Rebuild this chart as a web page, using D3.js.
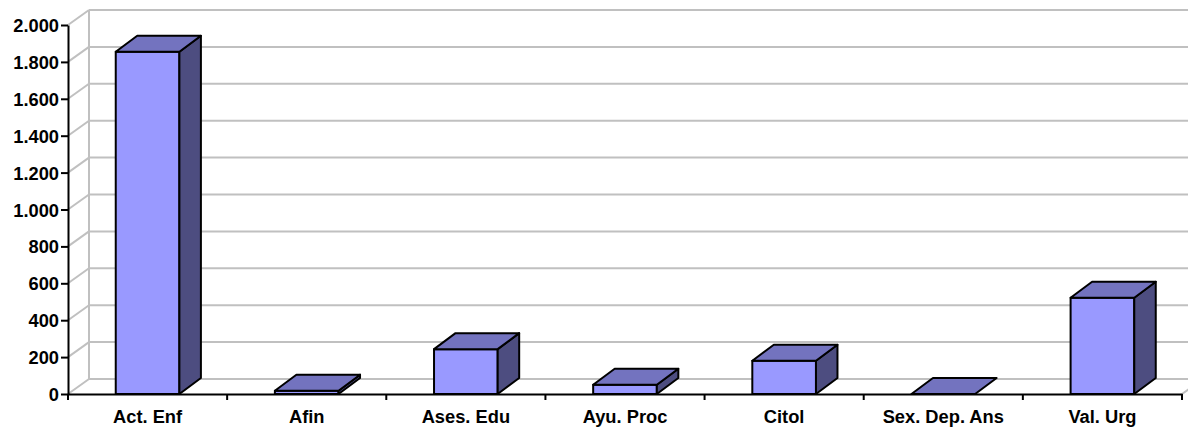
<!DOCTYPE html>
<html>
<head>
<meta charset="utf-8">
<script src="https://cdn.jsdelivr.net/npm/d3@7/dist/d3.min.js"></script>
<style>
  html, body { margin: 0; padding: 0; background: #fff; }
  svg { display: block; }
  text { font-family: "Liberation Sans", Arial, sans-serif; font-weight: bold; font-size: 18.3px; fill: #000; }
</style>
</head>
<body>
<svg id="chart" width="1188" height="428"></svg>
<script>
const categories = ["Act. Enf", "Afin", "Ases. Edu", "Ayu. Proc", "Citol", "Sex. Dep. Ans", "Val. Urg"];
const values = [1855, 18, 243, 50, 180, 0, 522];
const yTicks = [0, 200, 400, 600, 800, 1000, 1200, 1400, 1600, 1800, 2000];

const svg = d3.select("#chart");
const plotLeft = 68, plotRight = 1182, plotBase = 394, plotTop = 25;
const wallDx = 21, wallDy = -15;
const barDx = 21.5, barDy = -16;

const y = d3.scaleLinear().domain([0, 2000]).range([plotBase, plotTop]);
const slot = d3.scaleBand().domain(categories).range([plotLeft, plotRight]).padding(0);
const x = d3.scaleBand().domain(categories).range([plotLeft, plotRight]).paddingInner(0.6).paddingOuter(0.3);

const loc = d3.formatLocale({ decimal: ",", thousands: ".", grouping: [3], currency: ["", ""] });
const fmt = loc.format(",d");

// Walls / gridlines
const grid = svg.append("g").attr("stroke", "#c0c0c0").attr("stroke-width", 2).attr("fill", "none");
grid.selectAll("line.h").data(yTicks).join("line").attr("class", "h")
  .attr("x1", plotLeft + wallDx).attr("x2", plotRight + wallDx)
  .attr("y1", d => y(d) + wallDy).attr("y2", d => y(d) + wallDy);
grid.selectAll("line.d").data(yTicks).join("line").attr("class", "d")
  .attr("x1", plotLeft).attr("x2", plotLeft + wallDx)
  .attr("y1", d => y(d)).attr("y2", d => y(d) + wallDy);
grid.append("line")
  .attr("x1", plotLeft + wallDx).attr("x2", plotLeft + wallDx)
  .attr("y1", y(2000) + wallDy).attr("y2", y(0) + wallDy);
grid.append("line")
  .attr("x1", plotRight).attr("x2", plotRight + wallDx)
  .attr("y1", y(0)).attr("y2", y(0) + wallDy);

// Bars
const bars = svg.append("g").attr("stroke", "#000").attr("stroke-width", 2).attr("stroke-linejoin", "round");
const data = categories.map((c, i) => ({ c, v: values[i] }));
const g = bars.selectAll("g.bar").data(data).join("g").attr("class", "bar");

g.each(function(d) {
  const sel = d3.select(this);
  const x0 = x(d.c), x1 = x(d.c) + x.bandwidth();
  const yt = y(d.v), yb = y(0);
  if (yb - yt > 0.5) {
    sel.append("path").attr("fill", "#9999ff")
      .attr("d", `M${x0},${yb}L${x0},${yt}L${x1},${yt}L${x1},${yb}Z`);
    sel.append("path").attr("fill", "#4d4d80")
      .attr("d", `M${x1},${yb}L${x1},${yt}L${x1 + barDx},${yt + barDy}L${x1 + barDx},${yb + barDy}Z`);
  }
  sel.append("path").attr("fill", "#7373bf")
    .attr("d", `M${x0},${yt}L${x0 + barDx},${yt + barDy}L${x1 + barDx},${yt + barDy}L${x1},${yt}Z`);
});

// Y axis
const yAxis = svg.append("g").attr("transform", `translate(${plotLeft},0)`)
  .call(d3.axisLeft(y).tickValues(yTicks).tickFormat(fmt).tickSize(7).tickSizeOuter(0).tickPadding(2));
yAxis.attr("font-family", null).attr("font-size", null);
yAxis.select(".domain").attr("stroke", "#000").attr("stroke-width", 2);
yAxis.selectAll(".tick line").attr("stroke", "#000").attr("stroke-width", 2);
yAxis.selectAll(".tick text").attr("dy", "0.36em");

// X axis
const xAxis = svg.append("g").attr("transform", `translate(0,${plotBase})`)
  .call(d3.axisBottom(slot).tickSize(0).tickSizeOuter(0).tickPadding(0));
xAxis.attr("font-family", null).attr("font-size", null);
xAxis.select(".domain").attr("stroke", "#000").attr("stroke-width", 2);
xAxis.selectAll(".tick text").attr("y", 29).attr("dy", 0);
const bounds = categories.map(c => slot(c)).concat([slot(categories[categories.length - 1]) + slot.bandwidth()]);
xAxis.selectAll("line.sep").data(bounds).join("line").attr("class", "sep")
  .attr("x1", d => d).attr("x2", d => d).attr("y1", 0).attr("y2", 6)
  .attr("stroke", "#000").attr("stroke-width", 2);
</script>
</body>
</html>
